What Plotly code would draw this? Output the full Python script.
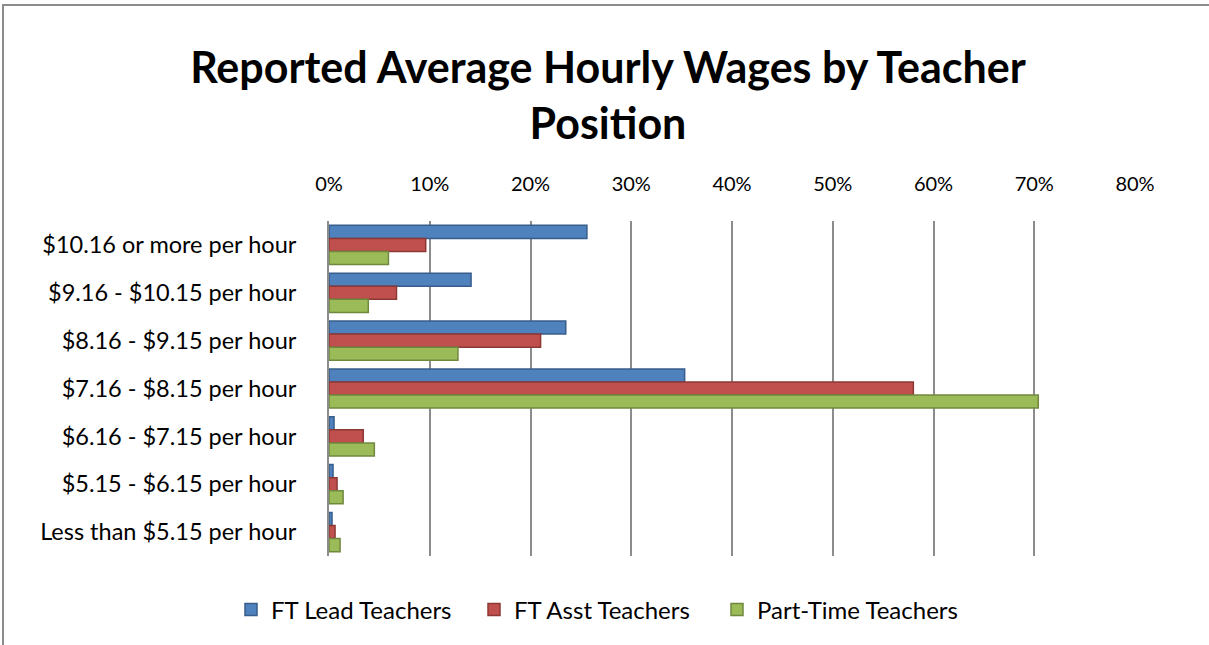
import plotly.graph_objects as go

categories = [
    "$10.16 or more per hour",
    "$9.16 - $10.15 per hour",
    "$8.16 - $9.15 per hour",
    "$7.16 - $8.15 per hour",
    "$6.16 - $7.15 per hour",
    "$5.15 - $6.15 per hour",
    "Less than $5.15 per hour",
]
ft_lead = [0.256, 0.141, 0.235, 0.353, 0.005, 0.004, 0.003]
ft_asst = [0.096, 0.067, 0.210, 0.580, 0.034, 0.008, 0.006]
part_time = [0.059, 0.039, 0.128, 0.704, 0.045, 0.014, 0.011]
tick_vals = [0, 0.1, 0.2, 0.3, 0.4, 0.5, 0.6, 0.7, 0.8]
tick_text = ["0%", "10%", "20%", "30%", "40%", "50%", "60%", "70%", "80%"]

series = [
    ("FT Lead Teachers", ft_lead, "#4F81BD", "#385D8A"),
    ("FT Asst Teachers", ft_asst, "#C0504D", "#8C3836"),
    ("Part-Time Teachers", part_time, "#9BBB59", "#71893F"),
]

font_family = "Lato, 'Open Sans', sans-serif"

L, R, T, B = 329, 74, 221, 89
W, H = 1209, 645
pw, ph = W - L - R, H - T - B

fig = go.Figure()
for name, vals, col, edge in series:
    fig.add_trace(go.Bar(
        y=categories, x=vals, name=name, orientation="h",
        marker=dict(color=col, line=dict(color=edge, width=1.5)),
    ))

fig.update_layout(
    width=W, height=H,
    paper_bgcolor="white", plot_bgcolor="white",
    barmode="group", bargap=0.18, bargroupgap=0.0,
    margin=dict(l=L, r=R, t=T, b=B, autoexpand=False),
    font=dict(family=font_family, color="#000000", size=20),
    title=dict(
        text="<b>Reported Average Hourly Wages by Teacher<br>Position</b>",
        x=608 / W, xanchor="center", xref="container",
        y=1 - 83 / H, yanchor="middle", yref="container",
        font=dict(size=43, family=font_family, color="#000000"),
    ),
    legend=dict(
        orientation="h", x=(231 - L) / pw, xanchor="left",
        y=-(610 - (H - B)) / ph, yanchor="middle",
        font=dict(size=24, family=font_family), traceorder="normal",
        itemwidth=30, entrywidth=198, entrywidthmode="pixels",
    ),
    xaxis=dict(
        side="top", range=[0, 0.8], tickvals=tick_vals, ticktext=tick_text,
        showgrid=True, gridcolor="#8C8C8C", gridwidth=2, zeroline=False,
        showline=False, ticks="", tickfont=dict(size=20, color="#000000"),
        ticklabelstandoff=25, automargin=False, fixedrange=True,
    ),
    yaxis=dict(
        autorange="reversed", showgrid=False, zeroline=False,
        showline=True, linecolor="#8C8C8C", linewidth=2,
        ticks="", ticklabelstandoff=26, automargin=False, fixedrange=True,
        tickfont=dict(size=23.5, color="#000000"),
    ),
    shapes=[
        dict(type="rect", xref="paper", yref="paper",
             x0=(3 - L) / pw, x1=1.2, y0=-0.4, y1=(H - B - 5) / ph,
             line=dict(color="#8C8C8C", width=2), fillcolor="rgba(0,0,0,0)"),
    ],
)

fig.write_html("out.html", config={"displayModeBar": False},
               post_script="document.body.style.margin='0';")
